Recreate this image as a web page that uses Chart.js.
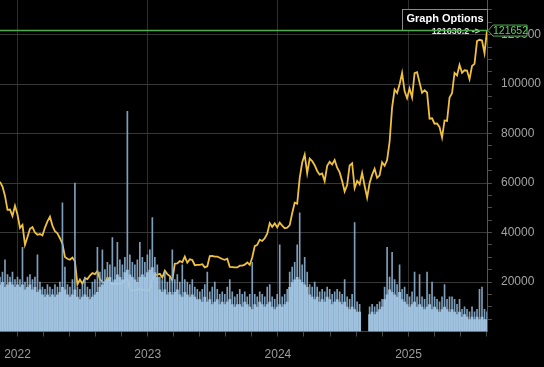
<!DOCTYPE html>
<html lang="en">
<head>
<meta charset="UTF-8">
<title>BTC price and volume</title>
<script src="https://cdn.jsdelivr.net/npm/chart.js"></script>
<style>
    html, body { margin: 0; padding: 0; background: #000; }
    .wrap { position: relative; width: 544px; height: 367px; }
</style>
</head>
<body>
<div class="wrap"><canvas id="priceChart"></canvas></div>
<script>
    // one sample per week, the first on 13 Nov 2021
    const firstDay = Date.UTC(2021, 10, 13);
    const yearLabels = [2022, 2023, 2024, 2025];
    const priceLabels = [20000, 40000, 60000, 80000, 100000, 120000];

    // price, thousands
    const priceK = [
        60.5, 58.6, 54.8, 49.2, 49.3, 46.7, 50.8,
        47.3, 41.9, 43.1, 35.0, 38.2, 41.5, 42.2, 40.0, 39.1, 39.4, 38.8, 42.0, 44.5,
        46.4, 42.8, 40.5, 39.7, 37.7, 35.5, 30.1, 29.4, 29.0, 29.9, 28.4, 19.0, 21.0,
        19.3, 21.6, 21.2, 22.6, 23.6, 23.2, 24.4, 21.2, 20.0, 19.8, 21.8, 20.1, 18.9,
        19.3, 19.4, 19.2, 19.6, 20.6, 21.2, 16.8, 16.7, 16.5, 17.0, 17.1, 16.8, 16.8, 16.5,
        16.9, 20.9, 22.8, 23.0, 23.3, 21.8, 24.6, 23.2, 22.4, 20.6, 27.4, 27.5,
        28.5, 28.0, 30.3, 27.8, 29.2, 28.9, 26.8, 26.9, 26.9, 27.2, 25.9, 26.3, 30.5,
        30.6, 30.3, 30.3, 29.8, 29.3, 29.0, 29.4, 26.1, 26.0, 25.9, 25.9, 26.6, 26.6, 27.0,
        27.9, 26.9, 29.9, 34.5, 35.0, 37.1, 36.6, 37.7, 39.5, 43.8, 42.3, 43.7, 42.1,
        44.0, 42.8, 41.7, 42.0, 43.0, 47.8, 52.1, 51.7, 62.0, 68.3, 71.5, 64.0, 69.9,
        68.9, 67.2, 64.9, 63.4, 63.9, 60.8, 67.0, 68.6, 67.5, 69.3, 66.2, 64.3, 60.8,
        56.6, 59.2, 67.1, 68.0, 58.0, 60.9, 59.5, 64.1, 58.9, 54.1, 60.0, 63.3, 65.8,
        62.1, 63.1, 68.4, 67.0, 69.3, 76.7, 90.6, 97.8, 96.4, 99.9, 104.5, 97.2, 94.3,
        98.2, 94.6, 104.4, 104.8, 100.6, 96.5, 97.5, 96.6, 86.0, 86.2, 84.0, 84.1, 82.6,
        78.4, 85.3, 85.1, 94.6, 96.3, 104.5, 103.5, 107.8, 104.6, 105.6, 105.5, 102.0, 107.3,
        108.2, 117.4, 117.9, 117.6, 112.5, 121.652
    ];

    // volume, typical level of the week, thousands (null = no data)
    const volumeK = [
        19, 20, 18, 19, 20, 19, 18,
        19, 18, 19, 17, 18, 19, 17, 18, 16, 17,
        15, 14, 15, 14, 15, 14, 15,
        16, 18, 17, 15, 14, 15, 17, 14, 13, 14, 15, 14, 13, 14, 15, 16,
        18, 19, 20, 21, 22, 20, 21, 23, 22, 21, 24, 25, 23, 22, 21, 20, 22, 23, 22, 24, 25, 26, 24, 22,
        17, 16, 17, 15, 16, 15, 16, 17, 15, 14, 16, 15, 14, 15, 14, 13,
        13, 12, 14, 12, 13, 11, 12, 13, 11, 12, 11, 12, 13, 11, 10, 11,
        11, 10, 12, 11, 10, 9, 11, 10, 12, 11, 10, 11, 12, 10, 9, 10, 11, 10, 11, 12,
        18, 20, 21, 22, 21, 20, 19, 18,
        15, 14, 13, 14, 12, 13, 12, 14, 13, 11, 12, 13, 12, 11, 12, 10,
        9, 10, 9, 8, 8,
        null, null, null,
        7, 8, 7, 8, 9, 10,
        13, 15, 17, 16, 15, 14, 16, 13, 12,
        11, 10, 11, 12, 10, 11, 10, 9, 10, 11, 9, 10, 9, 8, 9, 10, 9, 8, 9, 8, 7, 8,
        6, 7, 6, 5, 6, 5, 6, 5, 6, 5, 5
    ];

    // volume, highest day of the week, thousands
    const volumePeakK = [
        22, 24, 29, 23, 22, 24, 21,
        22, 21, 34, 20, 22, 23, 21, 22, 31, 20,
        18, 17, 19, 18, 17, 19, 18,
        20, 52, 26, 19, 18, 21, 60, 18, 17, 19, 22, 18, 17, 20, 21, 34,
        24, 33, 25, 28, 27, 38, 26, 36, 29, 27, 30, 89, 31, 28, 27, 29, 36, 30, 28, 31, 33, 46, 30, 27,
        22, 21, 24, 20, 22, 33, 21, 23, 20, 27, 21, 20, 19, 21, 18, 17,
        16, 17, 19, 24, 16, 18, 20, 17, 15, 16, 15, 18, 21, 16, 14, 15,
        17, 15, 16, 14, 15, 28, 15, 14, 16, 15, 14, 18, 19, 14, 13, 15, 35, 14, 15, 17,
        24, 26, 28, 35, 48, 27, 30, 24,
        19, 18, 20, 18, 16, 17, 16, 18, 17, 15, 16, 17, 16, 15, 21, 14,
        13, 15, 44, 12, 11,
        null, null, null,
        10, 11, 10, 11, 12, 13,
        18, 34, 22, 32, 21, 19, 27, 17, 18,
        15, 14, 16, 24, 14, 23, 14, 13, 24, 15, 20, 14, 13, 12, 14, 19, 13, 14, 14, 13, 11, 13,
        9, 10, 9, 8, 10, 8, 9, 17, 18, 9, 8
    ];

    const lastPrice = 121652;
    const markText = '121630.2 ->';

    const DAY = 86400000;
    const yearDays = yearLabels.map(y => Math.round((Date.UTC(y, 0, 1) - firstDay) / DAY));
    const lastDay = (priceK.length - 1) * 7;

    // 5 small ticks per year on the time axis
    const xTicks = [];
    yearDays.forEach(d => {
        for (let k = 0; k < 5; k++) xTicks.push(d + k * 73);
    });
    xTicks.push(yearDays[0] - 73);
    const tickDays = xTicks.filter(d => d >= 0 && d <= lastDay).sort((a, b) => a - b);

    // small ticks every 5000 on the price axis
    const yTicks = [];
    for (let v = 5000; v <= 130000; v += 5000) yTicks.push(v);

    const pricePts = priceK.map((v, i) => ({ x: i * 7, y: v * 1000 }));
    const volPts = volumeK.map((v, i) => ({ x: i * 7, y: v === null ? null : v * 1000 }));
    const peakPts = volumePeakK.map((v, i) => ({ x: i * 7, y: v === null ? null : v * 1000 }));

    const overlay = {
        id: 'overlay',
        afterDraw(chart) {
            const ctx = chart.ctx;
            const area = chart.chartArea;
            const yPx = chart.scales.y.getPixelForValue(lastPrice);
            ctx.save();

            // Graph Options box
            ctx.fillStyle = '#000';
            ctx.fillRect(402.5, 9.5, 85, 21);
            ctx.strokeStyle = '#8a8a8a';
            ctx.lineWidth = 1;
            ctx.strokeRect(402.5, 9.5, 85, 21);
            ctx.fillStyle = '#fff';
            ctx.font = 'bold 11px Arial';
            ctx.textAlign = 'center';
            ctx.textBaseline = 'middle';
            ctx.fillText('Graph Options', 445, 18.5);

            ctx.fillStyle = '#e0e0e0';
            ctx.font = 'bold 9px Arial';
            ctx.textAlign = 'right';
            ctx.fillText(markText, 480, yPx + 0.5);

            // last price line
            ctx.strokeStyle = '#4fae4f';
            ctx.lineWidth = 1.5;
            ctx.beginPath();
            ctx.moveTo(area.left, yPx);
            ctx.lineTo(area.right, yPx);
            ctx.stroke();

            // last price tag
            ctx.beginPath();
            ctx.moveTo(area.right + 1, yPx);
            ctx.lineTo(area.right + 6, yPx - 5.5);
            ctx.lineTo(527, yPx - 5.5);
            ctx.lineTo(527, yPx + 5.5);
            ctx.lineTo(area.right + 6, yPx + 5.5);
            ctx.closePath();
            ctx.fillStyle = '#000';
            ctx.fill();
            ctx.lineWidth = 1;
            ctx.stroke();
            ctx.fillStyle = '#5fd35f';
            ctx.font = '10.5px Arial';
            ctx.textAlign = 'left';
            ctx.fillText(String(lastPrice), area.right + 6, yPx + 0.5);
            ctx.restore();
        }
    };

    new Chart(document.getElementById('priceChart'), {
        type: 'line',
        data: {
            datasets: [
                {
                    type: 'bar',
                    data: volPts,
                    backgroundColor: 'rgba(164, 200, 230, 0.9)',
                    barPercentage: 1.15,
                    categoryPercentage: 1,
                    grouped: false,
                    order: 1
                },
                {
                    type: 'bar',
                    data: peakPts,
                    backgroundColor: 'rgba(140, 176, 208, 0.9)',
                    barThickness: 1,
                    grouped: false,
                    order: 2
                },
                {
                    type: 'line',
                    data: pricePts,
                    borderColor: '#f0c13e',
                    borderWidth: 1.8,
                    pointRadius: 0,
                    tension: 0,
                    order: 3
                }
            ]
        },
        options: {
            responsive: true,
            maintainAspectRatio: false,
            animation: false,
            layout: { padding: 0 },
            plugins: {
                legend: { display: false },
                tooltip: { enabled: false }
            },
            scales: {
                x: {
                    type: 'linear',
                    min: 0,
                    max: lastDay,
                    offset: false,
                    afterBuildTicks: s => { s.ticks = tickDays.map(v => ({ value: v })); },
                    afterFit: s => { s.height = 35.5; s.paddingLeft = 0; s.paddingRight = 0; },
                    grid: {
                        offset: false,
                        color: c => c.tick && yearDays.includes(c.tick.value) ? '#2e2e2e' : 'rgba(0,0,0,0)',
                        tickColor: '#4a4a4a',
                        tickLength: 5
                    },
                    border: { color: '#444' },
                    ticks: {
                        autoSkip: false,
                        maxRotation: 0,
                        padding: 11,
                        color: '#9c9c9c',
                        font: { family: 'Arial', size: 12 },
                        callback: v => {
                            const k = yearDays.indexOf(v);
                            return k >= 0 ? String(yearLabels[k]) : '';
                        }
                    }
                },
                y: {
                    type: 'linear',
                    position: 'right',
                    min: 0,
                    max: 134000,
                    afterBuildTicks: s => { s.ticks = yTicks.map(v => ({ value: v })); },
                    afterFit: s => { s.width = 57; s.paddingTop = 0; s.paddingBottom = 0; },
                    grid: {
                        color: c => c.tick && priceLabels.includes(c.tick.value) ? '#383838' : 'rgba(0,0,0,0)',
                        tickColor: '#4a4a4a',
                        tickLength: 5
                    },
                    border: { color: '#555' },
                    ticks: {
                        autoSkip: false,
                        padding: 9,
                        color: '#a3a3a3',
                        font: { family: 'Arial', size: 12 },
                        callback: v => priceLabels.includes(v) ? String(v) : ''
                    }
                }
            }
        },
        plugins: [overlay]
    });
</script>
</body>
</html>
